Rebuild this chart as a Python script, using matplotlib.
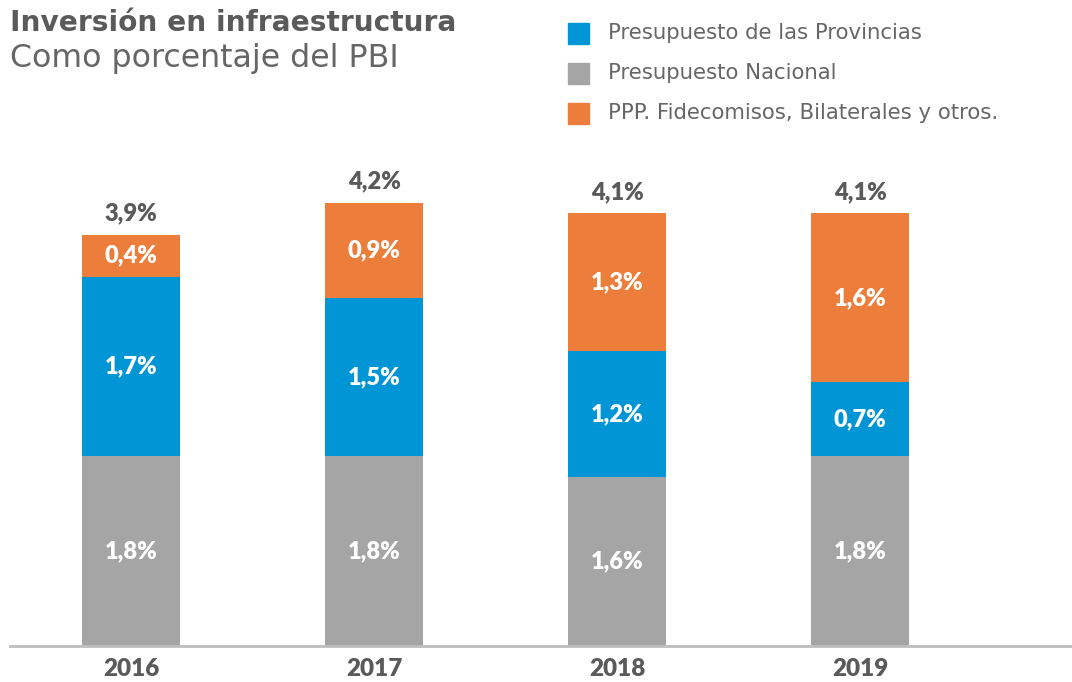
import numpy as np
import matplotlib
matplotlib.use("Agg")
import matplotlib.pyplot as plt
from matplotlib.patches import Rectangle

plt.rcParams['font.family'] = ['Lato', 'DejaVu Sans']

years = ["2016", "2017", "2018", "2019"]
nacional = [1.8, 1.8, 1.6, 1.8]
provincias = [1.7, 1.5, 1.2, 0.7]
ppp = [0.4, 0.9, 1.3, 1.6]
totales = [3.9, 4.2, 4.1, 4.1]

c_blue = "#0096D6"
c_gray = "#A5A5A5"
c_orange = "#ED7D3A"
c_text = "#5A5A5A"
wide = ['DejaVu Sans']

W, H = 1072, 682
fig = plt.figure(figsize=(W / 100, H / 100), dpi=100)

# axes placed in pixel terms: baseline at y=646, ~105.5 px per unit
x0, x1 = 10, 1072
base = 646
ymax = 5.0
ppu = 105.5
ax = fig.add_axes([x0 / W, (H - base) / H, (x1 - x0) / W, ymax * ppu / H])
spacing = 243.0
first_c = 131
ax.set_xlim((x0 - first_c) / spacing, (x1 - first_c) / spacing)
ax.set_ylim(0, ymax)

x = np.arange(len(years))
w = 0.4
ax.bar(x, nacional, w, color=c_gray, zorder=2)
bot2 = np.array(nacional)
ax.bar(x, provincias, w, bottom=bot2, color=c_blue, zorder=2)
bot3 = bot2 + np.array(provincias)
ax.bar(x, ppp, w, bottom=bot3, color=c_orange, zorder=2)


def fmt(v):
    return f"{v:.1f}%".replace(".", ",")


for i in range(len(years)):
    ax.text(x[i], nacional[i] / 2, fmt(nacional[i]), ha='center', va='center',
            color='white', fontsize=17, fontweight='heavy')
    ax.text(x[i], bot2[i] + provincias[i] / 2, fmt(provincias[i]), ha='center',
            va='center', color='white', fontsize=17, fontweight='heavy')
    ax.text(x[i], bot3[i] + ppp[i] / 2, fmt(ppp[i]), ha='center', va='center',
            color='white', fontsize=17, fontweight='heavy')
    ax.text(x[i], bot3[i] + ppp[i] + 0.1, fmt(totales[i]), ha='center',
            va='bottom', color=c_text, fontsize=17, fontweight='heavy')

for s in ['top', 'right', 'left']:
    ax.spines[s].set_visible(False)
ax.spines['bottom'].set_color('#BDBDBD')
ax.spines['bottom'].set_linewidth(2)
ax.set_yticks([])
ax.set_xticks(x)
ax.set_xticklabels(years, fontsize=17.5, fontweight='heavy', color=c_text)
ax.tick_params(axis='x', length=0, pad=9)

# titles
fig.text(10 / W, 1 - 23 / H, "Inversión en infraestructura", ha='left',
         va='center', fontsize=20.2, fontweight='bold', color=c_text, family=wide)
fig.text(10 / W, 1 - 59 / H, "Como porcentaje del PBI", ha='left',
         va='center', fontsize=22.8, color="#666666", family=wide)

# legend
leg_items = [("Presupuesto de las Provincias", c_blue),
             ("Presupuesto Nacional", c_gray),
             ("PPP. Fidecomisos, Bilaterales y otros.", c_orange)]
for k, (lab, col) in enumerate(leg_items):
    yc = 33 + 40 * k
    fig.patches.append(Rectangle((568 / W, 1 - (yc + 10.5) / H), 21 / W, 21 / H,
                                 transform=fig.transFigure, color=col))
    fig.text(608 / W, 1 - yc / H, lab, ha='left', va='center',
             fontsize=15.3, color="#666666", family=wide)

fig.savefig("out.png", dpi=100)
